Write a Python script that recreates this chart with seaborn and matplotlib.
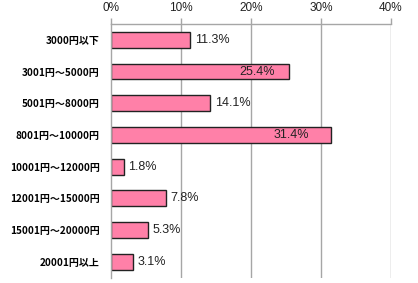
import matplotlib
matplotlib.use("Agg")
import matplotlib.pyplot as plt
import seaborn as sns
import pandas as pd
import numpy as np

categories = ["3000円以下", "3001円～5000円", "5001円～8000円", "8001円～10000円",
              "10001円～12000円", "12001円～15000円", "15001円～20000円", "20001円以上"]
values = [11.3, 25.4, 14.1, 31.4, 1.8, 7.8, 5.3, 3.1]
labels = ["11.3%", "25.4%", "14.1%", "31.4%", "1.8%", "7.8%", "5.3%", "3.1%"]
xticks = [0, 10, 20, 30, 40]
xticklabels = ["0%", "10%", "20%", "30%", "40%"]

sns.set_theme(style="white")
plt.rcParams["font.family"] = ["Liberation Sans", "DejaVu Sans"]

df = pd.DataFrame({"cat": categories, "val": values})

fig = plt.figure(figsize=(4.18, 2.83), dpi=100)
ax = fig.add_axes([0.2656, 0.0194, 0.9354 - 0.2656, 0.9152 - 0.0194])

sns.barplot(data=df, x="val", y="cat", orient="h", color="#FF80A8",
            width=0.5, edgecolor="#222222", linewidth=1.0, saturation=1, ax=ax)

ax.set_xlim(0, 40)
ax.set_ylim(len(categories) - 0.5, -0.5)
ax.set_xlabel("")
ax.set_ylabel("")

grid_col = "#A6A6A6"
ax.xaxis.tick_top()
ax.set_xticks(xticks)
ax.set_xticklabels(xticklabels, fontsize=8.5, color="#222222")
ax.tick_params(axis="x", direction="out", length=4, width=1, color=grid_col, pad=3)
for x in xticks[1:]:
    ax.axvline(x, color=grid_col, lw=1, zorder=0)

ax.set_yticks(np.arange(len(categories)))
ax.set_yticklabels(categories, fontsize=7.2, fontweight="bold", color="black",
                   family=["Noto Sans CJK JP", "DejaVu Sans"])
ax.tick_params(axis="y", which="major", length=0, pad=8)
ax.set_yticks(np.arange(len(categories) + 1) - 0.5, minor=True)
ax.tick_params(axis="y", which="minor", direction="out", length=4, width=1, color=grid_col)

for s in ["bottom", "right"]:
    ax.spines[s].set_visible(False)
for s in ["top", "left"]:
    ax.spines[s].set_color(grid_col)
    ax.spines[s].set_linewidth(1)

for i, (v, lab) in enumerate(zip(values, labels)):
    if v > 20:
        ax.text(v * 0.82, i, lab, ha="center", va="center", fontsize=9, color="#222222")
    else:
        ax.annotate(lab, (v, i), xytext=(3.5, 0), textcoords="offset points",
                    ha="left", va="center", fontsize=9, color="#222222")

fig.savefig("out.png", dpi=100)
